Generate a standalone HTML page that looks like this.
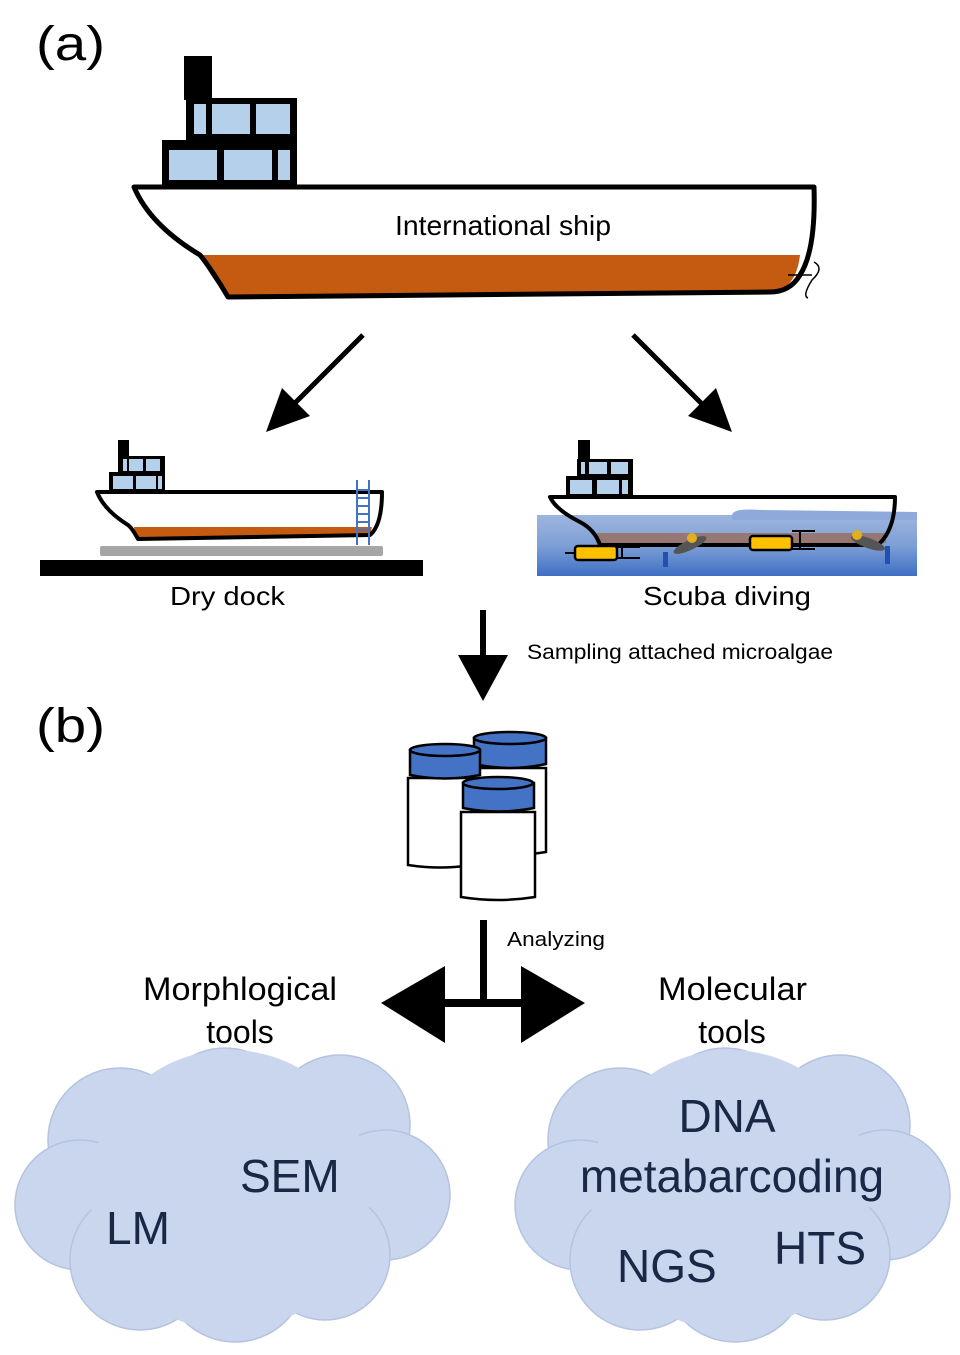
<!DOCTYPE html>
<html><head><meta charset="utf-8"><style>
html,body{margin:0;padding:0;background:#fff;}
svg{display:block;}
text{font-family:"Liberation Sans",Arial,sans-serif;}
</style></head><body>
<svg width="960" height="1355" viewBox="0 0 960 1355" xmlns="http://www.w3.org/2000/svg">
<defs>
<linearGradient id="water" x1="0" y1="0" x2="0" y2="1">
<stop offset="0" stop-color="#9db5dc"/><stop offset="0.5" stop-color="#7d9fd6"/><stop offset="1" stop-color="#3f6fc4"/>
</linearGradient>
</defs>
<text x="36" y="60" font-size="48" textLength="69" lengthAdjust="spacingAndGlyphs">(a)</text>
<text x="36" y="742" font-size="48" textLength="69" lengthAdjust="spacingAndGlyphs">(b)</text>

<!-- Big ship -->
<rect x="184" y="56" width="28" height="44" fill="#000"/>
<rect x="186" y="98" width="111" height="88" fill="#000"/>
<rect x="162" y="140" width="60" height="46" fill="#000"/>
<rect x="194" y="104" width="12" height="30" fill="#b4d0ea"/>
<rect x="212" y="104" width="38" height="30" fill="#b4d0ea"/>
<rect x="256" y="104" width="34" height="30" fill="#b4d0ea"/>
<rect x="169" y="150" width="48" height="30" fill="#b4d0ea"/>
<rect x="224" y="150" width="48" height="30" fill="#b4d0ea"/>
<rect x="278" y="150" width="12" height="30" fill="#b4d0ea"/>
<path d="M200,255 L800,255 Q796,290 770,292 L228,297 Q212,280 200,255 Z" fill="#c55a11"/>
<path d="M134,187 L814,187 Q816,250 800,275 Q790,292 770,292 L228,297 Q212,270 200,255 Q150,225 134,187 Z" fill="none" stroke="#000" stroke-width="5" stroke-linejoin="round"/>
<path d="M788,275 L812,275 M814,262 Q825,268 812,280 Q802,296 808,298" fill="none" stroke="#000" stroke-width="1.5"/>
<text x="395" y="235" font-size="28" textLength="216" lengthAdjust="spacingAndGlyphs">International ship</text>

<!-- diagonal arrows -->
<line x1="363" y1="335" x2="292" y2="406" stroke="#000" stroke-width="5"/>
<polygon points="266,432 282,388 310,416" fill="#000"/>
<line x1="633" y1="335" x2="706" y2="408" stroke="#000" stroke-width="5"/>
<polygon points="732,432 688,416 716,388" fill="#000"/>

<!-- Dry dock ship -->
<rect x="118" y="440" width="11" height="18" fill="#000"/>
<rect x="118" y="456" width="47" height="36" fill="#000"/>
<rect x="109" y="472" width="20" height="20" fill="#000"/>
<rect x="123" y="459" width="4" height="12" fill="#b4d0ea"/>
<rect x="129" y="459" width="14" height="12" fill="#b4d0ea"/>
<rect x="146" y="459" width="14" height="12" fill="#b4d0ea"/>
<rect x="113" y="476" width="20" height="13" fill="#b4d0ea"/>
<rect x="136" y="476" width="20" height="13" fill="#b4d0ea"/>
<rect x="158" y="476" width="4" height="13" fill="#b4d0ea"/>
<path d="M134,527 L372,527 L370,535 L136,539 Z" fill="#c55a11"/>
<path d="M97,492 L382,492 Q382,525 370,535 L138,539 Q132,528 128,525 Q104,510 97,492 Z" fill="none" stroke="#000" stroke-width="4" stroke-linejoin="round"/>
<g stroke="#4472c4" stroke-width="2">
<line x1="357" y1="480" x2="357" y2="545"/><line x1="369" y1="480" x2="369" y2="545"/>
<line x1="357" y1="490" x2="369" y2="490"/><line x1="357" y1="498" x2="369" y2="498"/><line x1="357" y1="506" x2="369" y2="506"/><line x1="357" y1="514" x2="369" y2="514"/><line x1="357" y1="522" x2="369" y2="522"/><line x1="357" y1="530" x2="369" y2="530"/>
</g>
<rect x="100" y="546" width="283" height="10" rx="2" fill="#a6a6a6"/>
<rect x="40" y="560" width="383" height="16" fill="#000"/>
<text x="170" y="605" font-size="26" textLength="115" lengthAdjust="spacingAndGlyphs">Dry dock</text>

<!-- Scuba ship -->
<rect x="578" y="440" width="12" height="22" fill="#000"/>
<rect x="577" y="459" width="56" height="38" fill="#000"/>
<rect x="566" y="476" width="25" height="21" fill="#000"/>
<rect x="581" y="462" width="4" height="12" fill="#b4d0ea"/>
<rect x="589" y="462" width="18" height="12" fill="#b4d0ea"/>
<rect x="611" y="462" width="17" height="12" fill="#b4d0ea"/>
<rect x="570" y="480" width="22" height="14" fill="#b4d0ea"/>
<rect x="597" y="480" width="22" height="14" fill="#b4d0ea"/>
<rect x="622" y="480" width="6" height="14" fill="#b4d0ea"/>
<rect x="537" y="515" width="380" height="61" fill="url(#water)"/>
<path d="M732,515 Q733,508 760,510 L917,512 L917,520 L732,520Z" fill="#8eaadc"/>
<rect x="596" y="533" width="290" height="10" fill="#9b6b5a" opacity="0.8"/>
<path d="M550,497 L895,497 Q895,530 878,545 L600,545 Q595,530 580,522 Q556,510 550,497 Z" fill="none" stroke="#000" stroke-width="4" stroke-linejoin="round"/>
<rect x="575" y="546" width="42" height="14" rx="3" fill="#ffc000" stroke="#000" stroke-width="2.5"/>
<path d="M617,547 L640,547 M617,558 L640,558 M622,547 L622,558 M565,553 L575,553" stroke="#000" stroke-width="2" fill="none"/>
<rect x="750" y="536" width="42" height="14" rx="3" fill="#ffc000" stroke="#000" stroke-width="2.5"/>
<path d="M792,531 L815,531 M792,549 L815,549 M800,531 L800,549" stroke="#000" stroke-width="2" fill="none"/>
<g fill="#555"><ellipse cx="690" cy="545" rx="18" ry="5" transform="rotate(-25 690 545)"/><ellipse cx="868" cy="543" rx="18" ry="5" transform="rotate(20 868 543)"/></g>
<g fill="#e0b020"><circle cx="692" cy="538" r="5"/><circle cx="857" cy="535" r="5"/></g>
<g fill="#2050b0"><rect x="663" y="552" width="5" height="15"/><rect x="885" y="546" width="5" height="18"/></g>
<text x="643" y="605" font-size="26" textLength="168" lengthAdjust="spacingAndGlyphs">Scuba diving</text>

<!-- down arrow -->
<rect x="480" y="610" width="6" height="50" fill="#000"/>
<polygon points="458,655 508,655 483,701" fill="#000"/>
<text x="527" y="659" font-size="21" textLength="306" lengthAdjust="spacingAndGlyphs">Sampling attached microalgae</text>

<!-- jars -->
<g stroke="#000" stroke-width="2.5">
<path d="M474,768 L474,852 Q510,858 546,852 L546,768 Z" fill="#fff"/>
<path d="M474,738 L474,764 Q510,772 546,764 L546,738 Z" fill="#4472c4"/>
<ellipse cx="510" cy="738" rx="36" ry="6" fill="#4472c4"/>
<path d="M408,778 L408,865 Q440,870 472,865 L472,778 Z" fill="#fff"/>
<path d="M410,750 L410,775 Q445,782 480,775 L480,750 Z" fill="#4472c4"/>
<ellipse cx="445" cy="750" rx="35" ry="6" fill="#4472c4"/>
<path d="M461,812 L461,897 Q498,903 535,897 L535,812 Z" fill="#fff"/>
<path d="M463,783 L463,808 Q498,815 534,808 L534,783 Z" fill="#4472c4"/>
<ellipse cx="498" cy="783" rx="35" ry="6" fill="#4472c4"/>
</g>

<!-- analyzing arrows -->
<rect x="480" y="920" width="7" height="84" fill="#000"/>
<rect x="440" y="999" width="86" height="8" fill="#000"/>
<polygon points="381,1003 445,966 445,1043" fill="#000"/>
<polygon points="585,1003 521,966 521,1043" fill="#000"/>
<text x="507" y="946" font-size="20" textLength="98" lengthAdjust="spacingAndGlyphs">Analyzing</text>

<text x="143" y="1000" font-size="32" textLength="194" lengthAdjust="spacingAndGlyphs">Morphlogical</text>
<text x="240" y="1043" font-size="32" text-anchor="middle">tools</text>
<text x="658" y="1000" font-size="32" textLength="149" lengthAdjust="spacingAndGlyphs">Molecular</text>
<text x="732" y="1043" font-size="32" text-anchor="middle">tools</text>

<!-- clouds -->
<g fill="#c9d6ee" stroke="#b5c3e0" stroke-width="1.5">
<circle cx="120" cy="1140" r="72"/>
<circle cx="225" cy="1120" r="72"/>
<circle cx="340" cy="1125" r="70"/>
<circle cx="385" cy="1195" r="65"/>
<circle cx="80" cy="1205" r="65"/>
<circle cx="140" cy="1260" r="70"/>
<circle cx="235" cy="1270" r="72"/>
<circle cx="325" cy="1255" r="65"/>
</g>
<g fill="#c9d6ee"><circle cx="230" cy="1190" r="140"/></g>
<g fill="#c9d6ee" stroke="#b5c3e0" stroke-width="1.5" transform="translate(500,0)">
<circle cx="120" cy="1140" r="72"/>
<circle cx="225" cy="1120" r="72"/>
<circle cx="340" cy="1125" r="70"/>
<circle cx="385" cy="1195" r="65"/>
<circle cx="80" cy="1205" r="65"/>
<circle cx="140" cy="1260" r="70"/>
<circle cx="235" cy="1270" r="72"/>
<circle cx="325" cy="1255" r="65"/>
</g>
<g fill="#c9d6ee"><circle cx="730" cy="1190" r="140"/></g>
<g fill="#1a2745">
<text x="240" y="1192" font-size="46">SEM</text>
<text x="106" y="1244" font-size="46">LM</text>
<text x="727" y="1132" font-size="46" text-anchor="middle">DNA</text>
<text x="732" y="1192" font-size="46" text-anchor="middle">metabarcoding</text>
<text x="617" y="1282" font-size="46">NGS</text>
<text x="774" y="1264" font-size="46">HTS</text>
</g>
</svg>
</body></html>
